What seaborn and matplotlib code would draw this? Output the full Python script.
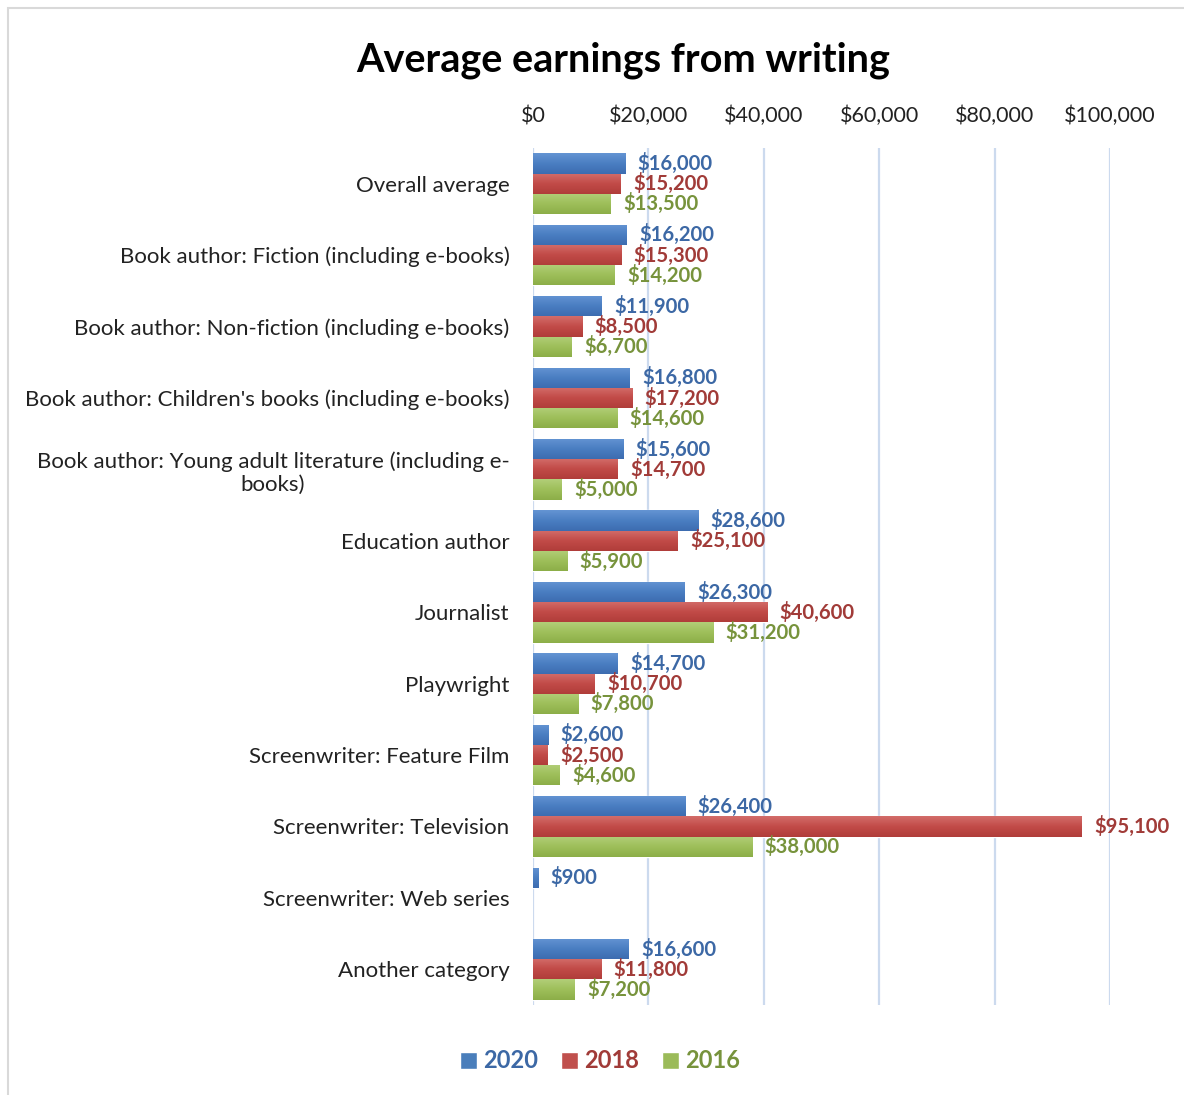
import matplotlib
matplotlib.use("Agg")
import matplotlib.pyplot as plt
import seaborn as sns
import pandas as pd
import numpy as np
from matplotlib.patches import Rectangle
from matplotlib.colors import to_rgb

categories = [
    "Overall average",
    "Book author: Fiction (including e-books)",
    "Book author: Non-fiction (including e-books)",
    "Book author: Children's books (including e-books)",
    "Book author: Young adult literature (including e-\nbooks)",
    "Education author",
    "Journalist",
    "Playwright",
    "Screenwriter: Feature Film",
    "Screenwriter: Television",
    "Screenwriter: Web series",
    "Another category",
]
years = ["2020", "2018", "2016"]
values_2020 = [16000, 16200, 11900, 16800, 15600, 28600, 26300, 14700, 2600, 26400, 900, 16600]
values_2018 = [15200, 15300, 8500, 17200, 14700, 25100, 40600, 10700, 2500, 95100, np.nan, 11800]
values_2016 = [13500, 14200, 6700, 14600, 5000, 5900, 31200, 7800, 4600, 38000, np.nan, 7200]
xticks = [0, 20000, 40000, 60000, 80000, 100000]

bar_colors = {"2020": "#4A7EBB", "2018": "#C0504D", "2016": "#9BBB59"}
grad_colors = {
    "2020": ("#6494D3", "#4A7EC2", "#3D6CB0"),
    "2018": ("#D36D6A", "#C24B48", "#B03D3A"),
    "2016": ("#B2CE78", "#9EBF5A", "#8CAE48"),
}
text_colors = {"2020": "#3C68A5", "2018": "#A13B38", "2016": "#77933C"}

rows = []
for yr, vals in zip(years, [values_2020, values_2018, values_2016]):
    for c, v in zip(categories, vals):
        if not np.isnan(v):
            rows.append({"category": c, "year": yr, "value": v})
df = pd.DataFrame(rows)

sns.set_theme(style="white")
plt.rcParams["font.family"] = ["Lato", "DejaVu Sans"]

fig = plt.figure(figsize=(11.84, 10.95), dpi=100)
ax = fig.add_axes([533 / 1184, 1 - 1005 / 1095, (1110 - 533) / 1184, (1005 - 148) / 1095])

sns.barplot(data=df, y="category", x="value", hue="year", order=categories,
            hue_order=years, orient="h", palette=bar_colors, width=0.85,
            saturation=1, errorbar=None, ax=ax, legend=True)


def gradient_image(stops, n=64):
    c = [np.array(to_rgb(s)) for s in stops]
    t = np.linspace(0, 1, n)
    img = np.zeros((n, 1, 3))
    for i, tt in enumerate(t):
        if tt < 0.5:
            img[i, 0] = c[0] + (c[1] - c[0]) * (tt / 0.5)
        else:
            img[i, 0] = c[1] + (c[2] - c[1]) * ((tt - 0.5) / 0.5)
    return img


for cont, yr in zip(ax.containers, years):
    img = gradient_image(grad_colors[yr])
    for p in cont:
        x0 = p.get_x()
        w = p.get_width()
        y0 = p.get_y()
        h = p.get_height()
        if not np.isfinite(w) or w <= 0:
            continue
        im = ax.imshow(img, extent=(x0, x0 + w, y0 + h, y0), origin="upper",
                       aspect="auto", interpolation="bilinear", zorder=p.get_zorder() + 0.1)
        im.set_clip_path(p)
    ax.bar_label(cont, fmt=lambda v: f"${v:,.0f}", padding=9,
                 fontsize=14.6, fontweight="bold", color=text_colors[yr])

ax.set_xlim(0, 100000)
ax.set_ylim(len(categories) - 0.5, -0.5)
ax.set_aspect("auto")
ax.set_xticks(xticks)
ax.set_xticklabels([f"${t:,.0f}" for t in xticks])
ax.xaxis.tick_top()
ax.tick_params(axis="x", length=0, pad=15.5, labelsize=15.5, labelcolor="#222222")
ax.tick_params(axis="y", length=0, pad=17, labelsize=16, labelcolor="#222222")
for lbl in ax.get_yticklabels():
    lbl.set_multialignment("center")
ax.set_xlabel("")
ax.set_ylabel("")
for s in ax.spines.values():
    s.set_visible(False)
ax.grid(axis="x", color="#CCDAEE", linewidth=1.6)
ax.grid(axis="y", visible=False)
ax.set_axisbelow(True)

handles, labs = ax.get_legend_handles_labels()
ax.get_legend().remove()
leg = fig.legend(handles, labs, loc="center", bbox_to_anchor=(600 / 1184, 1 - 1061 / 1095),
                 ncol=3, frameon=False, fontsize=17, handlelength=0.7, handleheight=0.7,
                 handletextpad=0.25, columnspacing=1.0)
for t, yr in zip(leg.get_texts(), years):
    t.set_color(text_colors[yr])
    t.set_fontweight("bold")

fig.text(623.5 / 1184, 1 - 60 / 1095, "Average earnings from writing", ha="center",
         va="center", fontsize=28.5, fontweight="bold", color="#000000")

fig.patches.append(Rectangle((8 / 1184, -0.05), 1.2, 1 - 8 / 1095 + 0.05,
                             transform=fig.transFigure, fill=False,
                             edgecolor="#D9D9D9", linewidth=1.5))

fig.savefig("out.png", dpi=100, facecolor="white")
